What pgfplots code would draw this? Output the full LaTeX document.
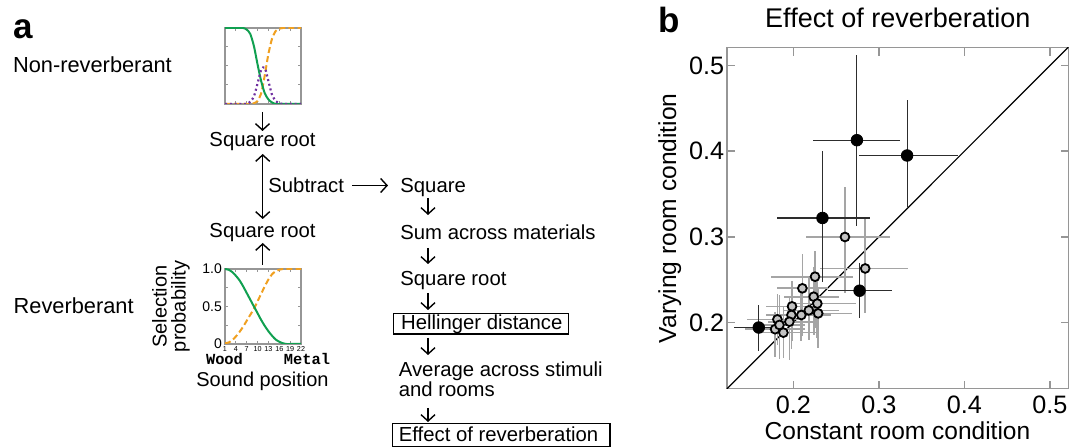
\documentclass[border=0pt]{standalone}
\usepackage{fontspec}
\setmainfont{Liberation Sans}
\setmonofont{Liberation Mono}
\usepackage{pgfplots}
\usepackage{pgfplotstable}
\pgfplotsset{compat=1.18}
\usetikzlibrary{arrows.meta}

\definecolor{cgreen}{RGB}{16,160,80}
\definecolor{corange}{RGB}{240,160,32}
\definecolor{cpurple}{RGB}{112,48,160}
\definecolor{framegray}{RGB}{150,150,150}
\definecolor{bargray}{RGB}{165,165,165}
\definecolor{bardark}{RGB}{45,45,45}
\definecolor{circfill}{RGB}{195,195,195}

% selection probabilities (sound position 1..22)
\pgfplotstableread{
pos green orange purple
1  1.00 0.00 0.00
2  1.00 0.00 0.00
3  1.00 0.00 0.00
4  1.00 0.00 0.00
5  1.00 0.00 0.00
6  1.00 0.00 0.00
7  0.98 0.00 0.00
8  0.92 0.00 0.03
9  0.76 0.01 0.10
10 0.52 0.04 0.27
11 0.30 0.14 0.45
12 0.14 0.38 0.48
13 0.06 0.66 0.30
14 0.02 0.86 0.12
15 0.00 0.96 0.04
16 0.00 0.99 0.01
17 0.00 1.00 0.00
18 0.00 1.00 0.00
19 0.00 1.00 0.00
20 0.00 1.00 0.00
21 0.00 1.00 0.00
22 0.00 1.00 0.00
}\nonreverb

\pgfplotstableread{
pos green orange
1  1.00 0.01
2  0.99 0.02
3  0.96 0.05
4  0.91 0.10
5  0.85 0.16
6  0.77 0.23
7  0.68 0.31
8  0.59 0.39
9  0.50 0.47
10 0.41 0.57
11 0.32 0.67
12 0.24 0.77
13 0.17 0.86
14 0.11 0.93
15 0.06 0.97
16 0.03 0.99
17 0.01 1.00
18 0.00 1.00
19 0.00 1.00
20 0.00 1.00
21 0.00 1.00
22 0.00 1.00
}\reverb

% Hellinger-based effect: constant (x) vs varying (y) room condition
\pgfplotstableread{
x      y      xm     xp     ym     yp
0.1595 0.1940 0.0285 0.0180 0.0270 0.0260
0.2743 0.4129 0.0510 0.0500 0.1000 0.1000
0.3330 0.3950 0.0560 0.0600 0.0600 0.0650
0.2340 0.3220 0.0535 0.0560 0.0750 0.0780
0.2774 0.2370 0.0370 0.0380 0.0320 0.0320
}\blackpts

\pgfplotstableread{
x      y      xm     xp     ym     yp
0.2603 0.2998 0.0450 0.0530 0.0660 0.0580
0.2840 0.2630 0.0530 0.0500 0.0520 0.0590
0.2253 0.2534 0.0520 0.0450 0.0600 0.0300
0.2105 0.2398 0.0300 0.0300 0.0560 0.0400
0.2237 0.2300 0.0350 0.0300 0.0450 0.0350
0.2280 0.2220 0.0300 0.0450 0.0400 0.0350
0.2290 0.2105 0.0350 0.0400 0.0400 0.0300
0.2180 0.2140 0.0300 0.0350 0.0350 0.0400
0.2093 0.2086 0.0250 0.0350 0.0300 0.0300
0.1984 0.2187 0.0300 0.0300 0.0400 0.0300
0.1977 0.2086 0.0300 0.0250 0.0400 0.0350
0.1953 0.2008 0.0250 0.0350 0.0450 0.0300
0.1813 0.2035 0.0350 0.0300 0.0300 0.0300
0.1786 0.1920 0.0350 0.0350 0.0320 0.0200
0.1837 0.1970 0.0300 0.0300 0.0400 0.0350
0.1883 0.1880 0.0250 0.0400 0.0300 0.0300
}\graypts

\pgfplotsset{
  mini/.style={
    scale only axis, width=38pt, height=38pt,
    xmin=1, xmax=22, ymin=0, ymax=1,
    axis line style={framegray, line width=0.9pt},
    tick align=inside, major tick length=1.4pt,
    tick style={framegray, line width=0.5pt},
    xtick={1,4,7,10,13,16,19,22},
    ytick={0,0.25,0.5,0.75,1},
    /pgf/number format/assume math mode=true,
  },
  gline/.style={cgreen, line width=1pt, smooth, tension=0.4, mark=none},
  oline/.style={corange, line width=1pt, dash pattern=on 3pt off 1.6pt, smooth, tension=0.4, mark=none},
  pline/.style={cpurple, line width=1.1pt, dash pattern=on 1pt off 1.4pt, smooth, tension=0.4, mark=none},
}

\begin{document}
\begin{tikzpicture}
\useasboundingbox (0,0) rectangle (539pt,-224pt);

% non-reverberant selection curves
\begin{axis}[mini, at={(112.5pt,-52pt)}, anchor=south west,
  xticklabels={}, yticklabels={}]
  \addplot[oline] table[x=pos, y=orange] {\nonreverb};
  \addplot[gline] table[x=pos, y=green] {\nonreverb};
  \addplot[pline] table[x=pos, y=purple] {\nonreverb};
\end{axis}

% reverberant selection curves
\begin{axis}[mini, height=37.5pt, at={(112.5pt,-172pt)}, anchor=south west,
  yticklabels={0,,0.5,,1.0},
  yticklabel style={font=\fontsize{7}{8}\selectfont, inner sep=1.4pt},
  xticklabel style={font=\fontsize{3.6}{4}\selectfont, inner sep=1.1pt}]
  \addplot[oline] table[x=pos, y=orange] {\reverb};
  \addplot[gline] table[x=pos, y=green] {\reverb};
\end{axis}

% effect of reverberation scatter
\begin{axis}[scale only axis, width=171pt, height=170.5pt,
  at={(363.35pt,-194.35pt)}, anchor=south west,
  xmin=0.122, xmax=0.522, ymin=0.1225, ymax=0.521,
  xtick={0.2,0.3,0.4,0.5}, ytick={0.2,0.3,0.4,0.5},
  tick align=inside, major tick length=4pt,
  axis line style={framegray, line width=0.8pt},
  tick style={framegray, line width=0.8pt},
  ticklabel style={font=\fontsize{12.6}{14}\selectfont},
  yticklabel style={xshift=2.3pt},
  /pgf/number format/assume math mode=true,
  /pgf/number format/fixed, /pgf/number format/precision=1]
  \addplot[black, line width=0.6pt, mark=none] coordinates {(0.122,0.122) (0.522,0.522)};
  \addplot[draw=none, mark=none,
    error bars/.cd, x dir=both, x explicit, y dir=both, y explicit,
    error mark=none, error bar style={bargray, line width=0.85pt}]
    table[x=x, y=y, x error plus=xp, x error minus=xm, y error plus=yp, y error minus=ym] {\graypts};
  \addplot[draw=none, mark=none,
    error bars/.cd, x dir=both, x explicit, y dir=both, y explicit,
    error mark=none, error bar style={bardark, line width=0.55pt}]
    table[x=x, y=y, x error plus=xp, x error minus=xm, y error plus=yp, y error minus=ym] {\blackpts};
  \addplot[only marks, mark=*, mark size=2.2pt,
    mark options={fill=circfill, draw=black, line width=0.9pt}]
    table[x=x, y=y] {\graypts};
  \addplot[only marks, mark=*, mark size=2.9pt,
    mark options={fill=black, draw=black}]
    table[x=x, y=y] {\blackpts};
\end{axis}

\begin{scope}[x=0.5pt, y=-0.5pt,
  flow/.style={font=\fontsize{10.15}{12}\selectfont, inner sep=0pt},
  arr/.style={line width=0.7pt, -{Straight Barb[length=3.2pt, width=7pt]}}]
  % panel letters and row labels
  \node[anchor=base west, inner sep=0pt, font=\fontsize{17.5}{20}\selectfont\bfseries] at (12.7,38.3) {a};
  \node[anchor=base west, inner sep=0pt, font=\fontsize{17.5}{20}\selectfont\bfseries] at (658,33) {b};
  \node[anchor=base west, inner sep=0pt, font=\fontsize{10.9}{13}\selectfont] at (12.7,72.7) {Non-reverberant};
  \node[anchor=base west, inner sep=0pt, font=\fontsize{10.9}{13}\selectfont] at (13.3,313.3) {Reverberant};

  % left column
  \draw[arr] (262.5,112) -- (262.5,131);
  \node[flow, anchor=base] at (262.5,147) {Square root};
  \draw[line width=0.7pt, {Straight Barb[length=3.2pt, width=7pt]}-{Straight Barb[length=3.2pt, width=7pt]}] (262.7,154) -- (262.7,219);
  \node[flow, anchor=base west] at (268,192.5) {Subtract};
  \node[flow, anchor=base] at (262.5,237.5) {Square root};
  \draw[arr] (262.7,265) -- (262.7,243);

  % axis labels of the reverberant curves
  \node[anchor=base, inner sep=0pt, rotate=90, font=\fontsize{10}{12}\selectfont] at (166.7,306.5) {Selection};
  \node[anchor=base, inner sep=0pt, rotate=90, font=\fontsize{10}{12}\selectfont] at (185.5,306.5) {probability};
  \node[anchor=base, inner sep=0pt, font=\fontsize{7.7}{9}\selectfont\ttfamily\bfseries] at (224.5,365) {Wood};
  \node[anchor=base, inner sep=0pt, font=\fontsize{7.7}{9}\selectfont\ttfamily\bfseries] at (307,365) {Metal};
  \node[anchor=base, inner sep=0pt, font=\fontsize{10}{12}\selectfont] at (262.5,387) {Sound position};

  % right column
  \draw[arr] (352,185.5) -- (388,185.5);
  \node[flow, anchor=base west] at (400,192.5) {Square};
  \draw[arr] (428,198) -- (428,215);
  \node[flow, anchor=base west] at (400,239.3) {Sum across materials};
  \draw[arr] (428,248) -- (428,264);
  \node[flow, anchor=base west] at (400,286) {Square root};
  \draw[arr] (428,293) -- (428,310);
  \draw[line width=0.7pt] (393.5,313.3) rectangle (568.3,334);
  \node[flow, anchor=base west] at (400.7,329.5) {Hellinger distance};
  \draw[arr] (428,338) -- (428,355);
  \node[flow, anchor=base west] at (398.5,376.7) {Average across stimuli};
  \node[flow, anchor=base west] at (398.5,396.7) {and rooms};
  \draw[arr] (428,408) -- (428,422);
  \draw[line width=0.7pt] (392.7,423.3) rectangle (610,446.6);
  \node[flow, anchor=base west] at (398.5,441.7) {Effect of reverberation};

  % scatter titles
  \node[anchor=base, inner sep=0pt, font=\fontsize{13.5}{16}\selectfont] at (897.8,27.3) {Effect of reverberation};
  \node[anchor=base, inner sep=0pt, font=\fontsize{12.25}{14}\selectfont] at (897.5,439.5) {Constant room condition};
  \node[anchor=base, inner sep=0pt, rotate=90, font=\fontsize{12.3}{14}\selectfont] at (676,218.2) {Varying room condition};
\end{scope}
\end{tikzpicture}
\end{document}
